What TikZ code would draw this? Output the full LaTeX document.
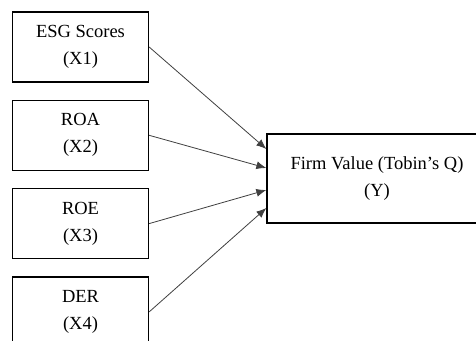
\documentclass[tikz,border=0pt]{standalone}
\usepackage{fontspec}
\setmainfont{Liberation Serif}
\usetikzlibrary{arrows.meta,positioning}

\begin{document}
\begin{tikzpicture}[
    x=1pt, y=-1pt,
    every node/.style={font=\fontsize{18.5}{27}\selectfont},
    varbox/.style={rectangle, draw, line width=1.3pt, minimum width=136pt, minimum height=70pt, align=center, inner sep=0pt},
    depbox/.style={rectangle, draw, line width=1.3pt, minimum width=220pt, minimum height=89pt, align=center, inner sep=0pt},
    arr/.style={-{Latex[length=10pt,width=8pt]}, line width=0.8pt, draw=black!75}
]
    \clip (0,0) rectangle (476,340);
    \fill[white] (0,0) rectangle (476,340);

    \node[varbox] (esg) at (80.5,47) {ESG Scores\\(X1)};
    \node[varbox, below=17pt of esg] (roa) {ROA\\(X2)};
    \node[varbox, below=17pt of roa] (roe) {ROE\\(X3)};
    \node[varbox, below=17pt of roe] (der) {DER\\(X4)};
    \node[depbox] (firm) at (377,178.5) {Firm Value (Tobin’s Q)\\(Y)};

    \draw[arr] (esg.east) -- ([yshift=29.5pt]firm.west);
    \draw[arr] (roa.east) -- ([yshift=10.5pt]firm.west);
    \draw[arr] (roe.east) -- ([yshift=-11.5pt]firm.west);
    \draw[arr] (der.east) -- ([yshift=-29.5pt]firm.west);
\end{tikzpicture}
\end{document}
